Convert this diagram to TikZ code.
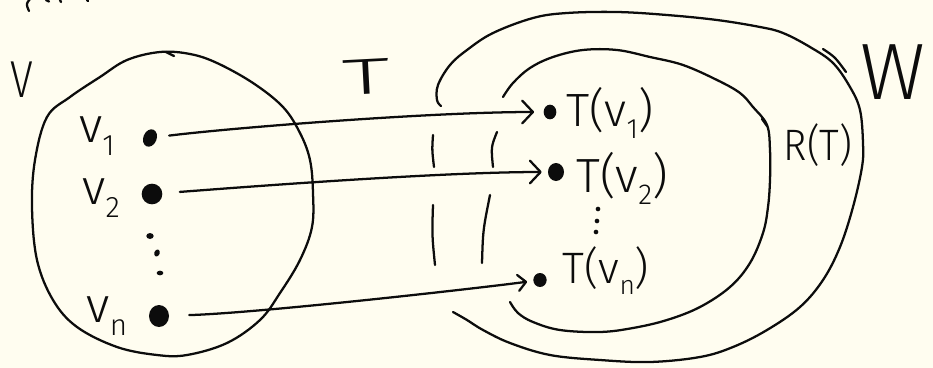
\documentclass[tikz,border=0pt]{standalone}
\usepackage{fontspec}
\IfFontExistsTF{Fira Sans Light}{\setmainfont{Fira Sans Light}}{\setmainfont{Fira Sans}}
\usetikzlibrary{arrows.meta,shapes.geometric}
\definecolor{paper}{RGB}{255,253,240}
\definecolor{ink}{RGB}{12,12,12}
% lowered index for handwritten subscripts
\newcommand\idx[1]{\raisebox{-0.25em}{\scalebox{0.6}{#1}}}
\newcommand\hsz[1]{\fontsize{#1}{#1}\selectfont}

\begin{document}
\begin{tikzpicture}[x=0.75pt,y=-0.75pt,
  pen/.style={draw=ink, line width=1.7pt, line cap=round, line join=round},
  conn/.style={pen, -{Straight Barb[length=8pt,width=17pt,round]}},
  connsmall/.style={pen, -{Straight Barb[length=6pt,width=12pt,round]}},
  blob/.style={fill=ink, ellipse, inner sep=0pt},
  lbl/.style={text=ink, inner sep=0pt}]

\useasboundingbox (0,0) rectangle (933,368);
\fill[paper] (0,0) rectangle (933,368);

% stray marks at the top edge
\draw[pen] (30,-1) .. controls (26,4) .. (29,11);
\draw[pen] (46,0) -- (49,1.5);
\draw[pen] (60,0) -- (61,2);
\draw[pen] (87,0) -- (88,1);

% the space V
\draw[pen] plot[smooth cycle, tension=0.6] coordinates {
  (160,52) (190,54) (217,63) (253,83) (283,107) (300,133) (310,160)
  (313,193) (312,227) (300,260) (280,293) (260,320) (227,343)
  (187,355) (157,355) (117,347) (77,327) (53,300) (37,260) (32,207)
  (35,160) (47,117) (70,97) (100,77) (127,60)};
\draw[pen] (166,52) -- (174,56);
\node[lbl, font=\hsz{39}] (Vlab) at (22,80) {\scalebox{0.8}[1]{V}};

% vectors of V
\node[blob, minimum width=10pt, minimum height=13.5pt, rotate=-22] (d1) at (150,138) {};
\node[blob, minimum width=15.5pt, minimum height=15.5pt] (d2) at (152,194) {};
\node[blob, minimum width=15pt, minimum height=16.5pt] (dn) at (159,316) {};
\node[blob, minimum width=5.5pt, minimum height=4.5pt] (e1) at (150,236) {};
\node[blob, minimum width=4pt, minimum height=5.5pt, rotate=-20] (e2) at (157,253) {};
\node[blob, minimum width=5pt, minimum height=3.5pt] (e3) at (160,273) {};

\node[lbl, font=\hsz{37}] (l1) at (97,136) {v\idx{1}};
\node[lbl, font=\hsz{37}] (l2) at (101,198) {v\idx{2}};
\node[lbl, font=\hsz{37}] (ln) at (107,316) {v\idx{n}};

% the map
\node[lbl, font=\hsz{38}, rotate=3] (Tlab) at (366,77) {\scalebox{1.9}[1]{T}};

% the space W
\draw[pen] plot[smooth, tension=0.6] coordinates {
  (441,106) (437,100) (438,85) (450,65) (467,50) (493,33) (533,18)
  (567,13) (617,12) (667,15) (717,20) (760,27) (783,33) (810,47)
  (833,63) (850,87) (860,110) (863,143) (862,167) (853,207) (840,247)
  (823,280) (800,307) (767,330) (733,347) (700,357) (650,362) (600,360)
  (550,355) (510,343) (483,330) (467,320) (453,312)};
\draw[pen] (823,49) .. controls (835,57) .. (846,72);
\draw[pen] (433,135) .. controls (432,150) .. (434,167);
\draw[pen] (433,205) .. controls (432,235) .. (435,265);
\node[lbl, font=\hsz{60}] (Wlab) at (893,72) {W};

% the range R(T)
\draw[pen] plot[smooth, tension=0.6] coordinates {
  (503,97) (513,83) (530,68) (553,57) (583,50) (617,50) (650,57)
  (683,65) (717,80) (740,93) (753,107) (767,125) (770,150) (770,180)
  (768,207) (763,233) (750,263) (730,287) (700,307) (667,320)
  (633,328) (600,332) (560,330) (533,322) (518,313) (510,302)};
\draw[pen] (762,119) -- (767,126);
\draw[pen] (497,132) .. controls (491,147) .. (493,167);
\draw[pen] (490,195) .. controls (483,230) .. (482,263);
\node[lbl, font=\hsz{33}] (Rlab) at (818,145) {\scalebox{0.9}[1]{R(T)}};

% images of the vectors
\node[blob, minimum width=9.5pt, minimum height=11pt] (t1) at (550,112) {};
\node[blob, minimum width=12pt, minimum height=13.5pt] (t2) at (556,172) {};
\node[blob, minimum width=10pt, minimum height=10.5pt] (tn) at (540,280) {};
\node[blob, minimum width=3.5pt, minimum height=3.5pt] (f1) at (598,209) {};
\node[blob, minimum width=3.5pt, minimum height=3.5pt] (f2) at (597,221) {};
\node[blob, minimum width=3.5pt, minimum height=3.5pt] (f3) at (596,232) {};

\node[lbl, font=\hsz{35}] (m1) at (610,113) {T(v\idx{1})};
\node[lbl, font=\hsz{36}] (m2) at (622,178) {T(v\idx{2})};
\node[lbl, font=\hsz{33}] (mn) at (606,271) {T(v\idx{n})};

% T sends each vector to its image
\draw[conn, shorten <=9pt, shorten >=7pt]
  (d1) .. controls +(80,-10) and +(-120,0) .. (t1);
\draw[conn, shorten <=13pt, shorten >=4.5pt]
  (d2) .. controls +(80,-6) and +(-120,0) .. (t2);
\draw[connsmall, shorten <=15pt, shorten >=4.5pt]
  (dn) .. controls +(100,-3) and +(-60,8) .. (tn);
\end{tikzpicture}
\end{document}
